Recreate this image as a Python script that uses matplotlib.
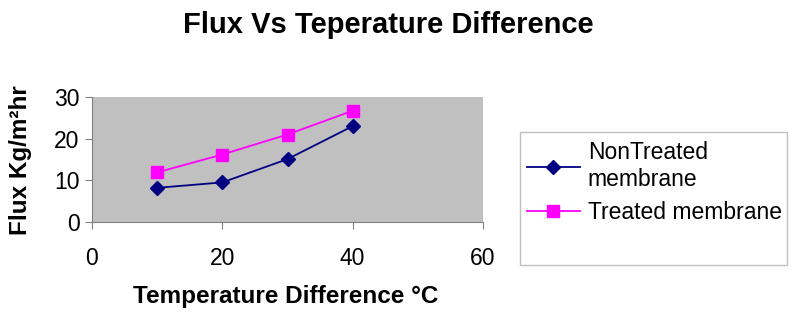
import matplotlib
matplotlib.use('Agg')
import matplotlib.pyplot as plt
from matplotlib.patches import Rectangle

# data
temp_diff = [10, 20, 30, 40]
flux_nontreated = [8.2, 9.5, 15.1, 23.0]
flux_treated = [11.9, 16.2, 21.0, 26.7]
x_ticks = [0, 20, 40, 60]
y_ticks = [0, 10, 20, 30]

plt.rcParams['font.family'] = ['Liberation Sans', 'DejaVu Sans']

W, H = 800, 322
fig = plt.figure(figsize=(8, 3.22), dpi=100)
ax = fig.add_axes([92 / W, 100 / H, 391 / W, 125 / H])
ax.set_facecolor('#C0C0C0')

ax.plot(temp_diff, flux_nontreated, color='#000080', marker='D',
        markersize=7, linewidth=1.3, label='NonTreated\nmembrane',
        clip_on=False)
ax.plot(temp_diff, flux_treated, color='#FF00FF', marker='s',
        markersize=8, linewidth=1.3, label='Treated membrane',
        clip_on=False)

ax.set_xlim(0, 60)
ax.set_ylim(0, 30)
ax.set_xticks(x_ticks)
ax.set_yticks(y_ticks)

for side in ['top', 'right']:
    ax.spines[side].set_visible(False)
for side in ['left', 'bottom']:
    ax.spines[side].set_color('#808080')
    ax.spines[side].set_linewidth(0.8)

ax.tick_params(axis='x', direction='out', length=5, color='#808080',
               labelsize=16.5, pad=13)
ax.tick_params(axis='y', direction='out', length=5, color='#808080',
               labelsize=16.5, pad=4)

fig.text(388 / W, 1 - 25 / H, 'Flux Vs Teperature Difference', ha='center',
         va='center', fontsize=21, fontweight='bold')
fig.text(286 / W, 1 - 296 / H, 'Temperature Difference °C',
         ha='center', va='center', fontsize=17.5, fontweight='bold')
fig.text(21 / W, 1 - 160 / H, 'Flux Kg/m²hr', ha='center',
         va='center', rotation=90, fontsize=17.5, fontweight='bold')

# legend frame is taller than its entries, so draw it separately
fig.patches.append(Rectangle((520 / W, 1 - 265 / H), 267 / W, 133 / H,
                             transform=fig.transFigure, facecolor='white',
                             edgecolor='#C0C0C0', linewidth=1.0, zorder=0))
leg = fig.legend(loc='upper left', bbox_to_anchor=(527 / W, 1 - 141 / H),
                 fontsize=16.5, frameon=False, borderpad=0,
                 handlelength=2.3, handletextpad=0.35, labelspacing=0.45,
                 borderaxespad=0)

fig.savefig('out.png', dpi=100)
